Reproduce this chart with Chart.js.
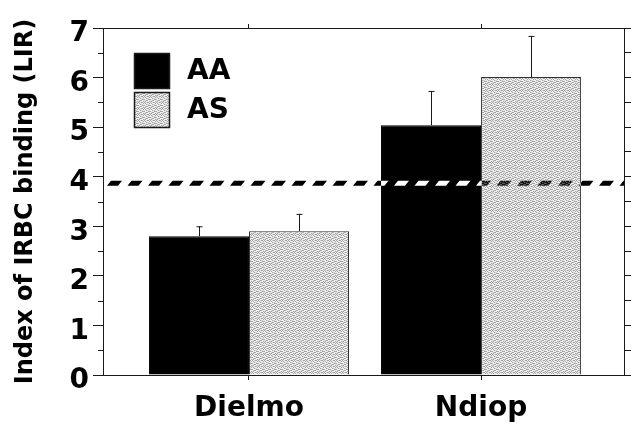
<!DOCTYPE html>
<html>
<head>
<meta charset="utf-8">
<script src="https://cdn.jsdelivr.net/npm/chart.js@4"></script>
<style>
  html, body { margin: 0; padding: 0; background: #fff; }
</style>
</head>
<body>
<canvas id="bindingChart" width="633" height="427"></canvas>
<script>
// data
const sites = ['Dielmo', 'Ndiop'];
const groups = ['AA', 'AS'];
const meanAA = [2.80, 5.04];
const meanAS = [2.90, 6.01];
const upperAA = [3.00, 5.73];   // top of error bar
const upperAS = [3.25, 6.84];
const cutoff = 3.87;            // dashed threshold
const yMin = 0, yMax = 7;

const FONT = 'DejaVu Sans';
const INK = '#1a1a1a';

// light stippled grey fill like the print
function stipple() {
    const c = document.createElement('canvas');
    c.width = 6; c.height = 6;
    const g = c.getContext('2d');
    g.fillStyle = '#efefef';
    g.fillRect(0, 0, 6, 6);
    g.fillStyle = '#a4a4a4';
    [[0, 0], [3, 0], [5, 1], [1, 1], [2, 2], [4, 3], [0, 3], [3, 4], [1, 5], [5, 5], [2, 4], [4, 0], [5, 3]]
        .forEach(p => g.fillRect(p[0], p[1], 1, 1));
    g.fillStyle = '#cfcfcf';
    [[2, 0], [4, 2], [0, 5], [3, 2], [1, 4]].forEach(p => g.fillRect(p[0], p[1], 1, 1));
    return g.createPattern(c, 'repeat');
}
const grey = stipple();

// white page under everything (needed for the inverted dashes)
const whiteBg = {
    id: 'whiteBg',
    beforeDraw(chart) {
        const ctx = chart.ctx;
        ctx.save();
        ctx.fillStyle = '#fff';
        ctx.fillRect(0, 0, chart.width, chart.height);
        ctx.restore();
    }
};

// error bars (upper only)
const errorBars = {
    id: 'errorBars',
    afterDatasetsDraw(chart) {
        const ctx = chart.ctx;
        const y = chart.scales.y;
        const uppers = [upperAA, upperAS];
        ctx.save();
        ctx.strokeStyle = INK;
        ctx.lineWidth = 1;
        chart.data.datasets.forEach((ds, di) => {
            chart.getDatasetMeta(di).data.forEach((bar, i) => {
                const top = y.getPixelForValue(uppers[di][i]);
                const x = Math.round(bar.x) + 0.5;
                ctx.beginPath();
                ctx.moveTo(x, bar.y);
                ctx.lineTo(x, top);
                ctx.moveTo(x - 3, top + 0.5);
                ctx.lineTo(x + 3, top + 0.5);
                ctx.stroke();
            });
        });
        ctx.restore();
    }
};

// slanted dashed cutoff line, inverted where it crosses bars
const cutoffLine = {
    id: 'cutoffLine',
    afterDatasetsDraw(chart) {
        const ctx = chart.ctx;
        const area = chart.chartArea;
        const yp = chart.scales.y.getPixelForValue(cutoff);
        ctx.save();
        ctx.beginPath();
        ctx.rect(area.left + 1, area.top, area.right - area.left - 1, area.bottom - area.top);
        ctx.clip();
        ctx.globalCompositeOperation = 'difference';
        ctx.fillStyle = '#fff';
        for (let x0 = area.left + 4; x0 < area.right; x0 += 20.5) {
            ctx.beginPath();
            ctx.moveTo(x0 + 4, yp - 2.5);
            ctx.lineTo(x0 + 15, yp - 2.5);
            ctx.lineTo(x0 + 11, yp + 2.5);
            ctx.lineTo(x0, yp + 2.5);
            ctx.closePath();
            ctx.fill();
        }
        ctx.restore();
    }
};

// minor ticks on the left axis
const minorTicks = {
    id: 'minorTicks',
    afterDraw(chart) {
        const ctx = chart.ctx;
        const y = chart.scales.y;
        const left = chart.chartArea.left;
        ctx.save();
        ctx.strokeStyle = INK;
        ctx.lineWidth = 1;
        for (let v = yMin + 0.5; v < yMax; v += 1) {
            const p = Math.round(y.getPixelForValue(v)) + 0.5;
            ctx.beginPath();
            ctx.moveTo(left - 5, p);
            ctx.lineTo(left, p);
            ctx.stroke();
        }
        ctx.restore();
    }
};

// legend inside the plot, top left
const boxLegend = {
    id: 'boxLegend',
    afterDraw(chart) {
        const ctx = chart.ctx;
        const area = chart.chartArea;
        const x = area.left + 31;
        ctx.save();
        ctx.font = 'bold 28px ' + FONT;
        ctx.textBaseline = 'middle';
        chart.data.datasets.forEach((ds, i) => {
            const top = area.top + 25 + i * 39;
            ctx.fillStyle = ds.backgroundColor;
            ctx.fillRect(x, top, 35, 35);
            ctx.strokeStyle = INK;
            ctx.lineWidth = 1.5;
            ctx.strokeRect(x + 0.5, top + 0.5, 35, 35);
            ctx.fillStyle = '#000';
            ctx.fillText(ds.label, x + 53, top + 19);
        });
        ctx.restore();
    }
};

const xMin = -0.629, xMax = 1.616;
const tickFont = { family: FONT, size: 28, weight: 'bold' };

new Chart(document.getElementById('bindingChart'), {
    type: 'bar',
    data: {
        datasets: [
            {
                label: groups[0],
                data: meanAA.map((v, i) => ({ x: i, y: v })),
                backgroundColor: '#000',
                borderColor: '#000',
                borderWidth: 1
            },
            {
                label: groups[1],
                data: meanAS.map((v, i) => ({ x: i, y: v })),
                backgroundColor: grey,
                borderColor: '#333',
                borderWidth: 1
            }
        ]
    },
    options: {
        responsive: false,
        animation: false,
        devicePixelRatio: 1,
        categoryPercentage: 0.862,
        barPercentage: 1,
        layout: { padding: 0 },
        plugins: {
            legend: { display: false },
            tooltip: { enabled: false }
        },
        scales: {
            x: {
                type: 'linear',
                position: 'bottom',
                offset: false,
                min: xMin,
                max: xMax,
                afterBuildTicks: s => { s.ticks = sites.map((_, i) => ({ value: i })); },
                afterFit: s => { s.height = 52; },
                ticks: {
                    callback: v => sites[v] ?? '',
                    font: tickFont,
                    color: '#000',
                    padding: 12,
                    maxRotation: 0,
                    autoSkip: false
                },
                grid: { offset: false, drawOnChartArea: false, tickLength: 5, color: INK },
                border: { color: INK }
            },
            xTop: {
                type: 'linear',
                position: 'top',
                offset: false,
                min: xMin,
                max: xMax,
                afterBuildTicks: s => { s.ticks = sites.map((_, i) => ({ value: i })); },
                afterFit: s => { s.height = 28; },
                ticks: { display: false },
                grid: { offset: false, drawOnChartArea: false, tickLength: 4, color: INK },
                border: { color: INK }
            },
            y: {
                position: 'left',
                min: yMin,
                max: yMax,
                afterFit: s => { s.width = 103; },
                ticks: {
                    stepSize: 1,
                    font: tickFont,
                    color: '#000',
                    padding: 4,
                    labelOffset: 6
                },
                grid: { drawOnChartArea: false, tickLength: 10, color: INK },
                border: { color: INK },
                title: {
                    display: true,
                    text: 'Index of IRBC binding (LIR)',
                    font: { family: FONT, size: 24, weight: 'bold' },
                    color: '#000',
                    padding: { top: 11, bottom: 0 }
                }
            },
            yRight: {
                position: 'right',
                min: yMin,
                max: yMax,
                afterFit: s => { s.width = 9; },
                ticks: { display: false, stepSize: 0.5 },
                grid: { drawOnChartArea: false, tickLength: 7, color: INK },
                border: { color: INK }
            }
        }
    },
    plugins: [whiteBg, cutoffLine, errorBars, minorTicks, boxLegend]
});
</script>
</body>
</html>
